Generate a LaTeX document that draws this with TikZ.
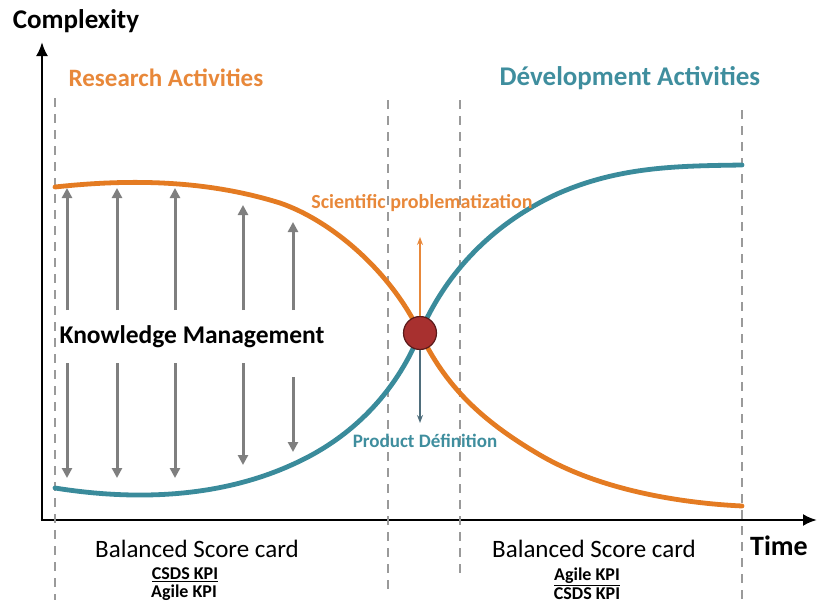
\documentclass[tikz,border=0pt]{standalone}
\usepackage{fontspec}
\setmainfont{Carlito}
\usetikzlibrary{arrows.meta}
\definecolor{orng}{HTML}{E47B22}
\definecolor{orngtxt}{HTML}{E8883A}
\definecolor{teal2}{HTML}{3A8B9B}
\definecolor{tealtxt}{HTML}{3F8E9E}
\definecolor{kmgray}{HTML}{7F7F7F}
\definecolor{dashgray}{HTML}{9A9A9A}
\definecolor{dotred}{HTML}{A8302F}
\definecolor{dotedge}{HTML}{5A1A1A}
\definecolor{downgray}{HTML}{4F6E7C}
\begin{document}
\begin{tikzpicture}[x=1pt,y=-1pt,
  txt/.style={inner sep=0pt, anchor=center},
  kpi/.style={inner sep=0pt, anchor=center, font=\bfseries\fontsize{18}{20}\selectfont},
  axisline/.style={draw=black, line width=2.6pt, -{Latex[length=14pt,width=12pt]}},
  dashline/.style={draw=dashgray, line width=2.4pt, dash pattern=on 9pt off 7pt},
  curveline/.style={line width=4.8pt, line cap=round},
  kmup/.style={draw=kmgray, line width=3pt, -{Triangle[length=10pt,width=10pt]}},
  kmdown/.style={draw=kmgray, line width=3pt, -{Triangle[length=10pt,width=10pt]}},
  thinarrow/.style={line width=1.4pt, -{Stealth[length=8pt,width=6pt]}}]
\useasboundingbox (0,0) rectangle (817,605);
% axes
\coordinate (o) at (42,520);
\coordinate (ytip) at (42,42);
\coordinate (xtip) at (817,520);
\draw[axisline] (o) -- (ytip);
\draw[axisline] ([xshift=-1.3pt]o) -- (xtip);
% dashed lines
\coordinate (d1a) at (55,98);  \coordinate (d1b) at (55,600);
\coordinate (d2a) at (388,100); \coordinate (d2b) at (388,592);
\coordinate (d3a) at (460,100); \coordinate (d3b) at (460,578);
\coordinate (d4a) at (742,110); \coordinate (d4b) at (742,600);
\draw[dashline] (d1a) -- (d1b);
\draw[dashline] (d2a) -- (d2b);
\draw[dashline] (d3a) -- (d3b);
\draw[dashline] (d4a) -- (d4b);
% curves
\draw[curveline, orng] (55,187) .. controls (120,180) and (200,178) .. (280,203)
  .. controls (330,220) and (390,270) .. (420,333)
  .. controls (445,385) and (480,420) .. (540,455)
  .. controls (600,490) and (680,503) .. (742,506);
\draw[curveline, teal2] (55,488) .. controls (130,500) and (220,500) .. (300,461)
  .. controls (350,437) and (395,395) .. (420,333)
  .. controls (445,275) and (490,225) .. (557,194)
  .. controls (620,166) and (680,166) .. (742,165);
% knowledge management arrows
\foreach \x/\t/\b/\d in {67/188/478/363, 117/188/478/363, 175/188/478/363, 243/205/465/363, 293/222/452/377}{
  \coordinate (u0) at (\x,310); \coordinate (u1) at (\x,\t);
  \coordinate (w0) at (\x,\d); \coordinate (w1) at (\x,\b);
  \draw[kmup] (u0) -- (u1);
  \draw[kmdown] (w0) -- (w1);
}
% central point
\node[circle, fill=dotred, draw=dotedge, line width=1.2pt, minimum size=33pt, inner sep=0pt] (c) at (420,333) {};
\coordinate (sctip) at (420,237);
\coordinate (pdtip) at (420,423);
\draw[thinarrow, orngtxt] (c.north) -- (sctip);
\draw[thinarrow, downgray] (c.south) -- (pdtip);
% texts
\node[txt, font=\bfseries\fontsize{27}{30}\selectfont] (cx) at (76,21) {Complexity};
\node[txt, font=\bfseries\fontsize{25}{28}\selectfont, text=orngtxt] (ra) at (166,78) {Research Activities};
\node[txt, font=\bfseries\fontsize{27}{30}\selectfont, text=tealtxt] (da) at (630,78) {Dévelopment Activities};
\node[txt, font=\bfseries\fontsize{25.5}{28}\selectfont] (km) at (192,337) {Knowledge Management};
\node[txt, font=\bfseries\fontsize{20}{23}\selectfont, text=orngtxt] (sp) at (422,203) {Scientific problematization};
\node[txt, font=\bfseries\fontsize{19}{22}\selectfont, text=tealtxt] (pd) at (425,441) {Product Définition};
\node[txt, font=\fontsize{25}{28}\selectfont] (bl) at (197,549) {Balanced Score card};
\node[txt, font=\fontsize{25}{28}\selectfont] (br) at (594,549) {Balanced Score card};
\node[kpi] (l1) at (185,575) {\underline{CSDS KPI}};
\node[kpi] (l2) at (184,593) {Agile KPI};
\node[kpi] (r1) at (587,577) {\underline{Agile KPI}};
\node[kpi] (r2) at (587,594) {CSDS KPI};
\node[txt, font=\bfseries\fontsize{28}{30}\selectfont] (tm) at (779,546) {Time};
\end{tikzpicture}
\end{document}
